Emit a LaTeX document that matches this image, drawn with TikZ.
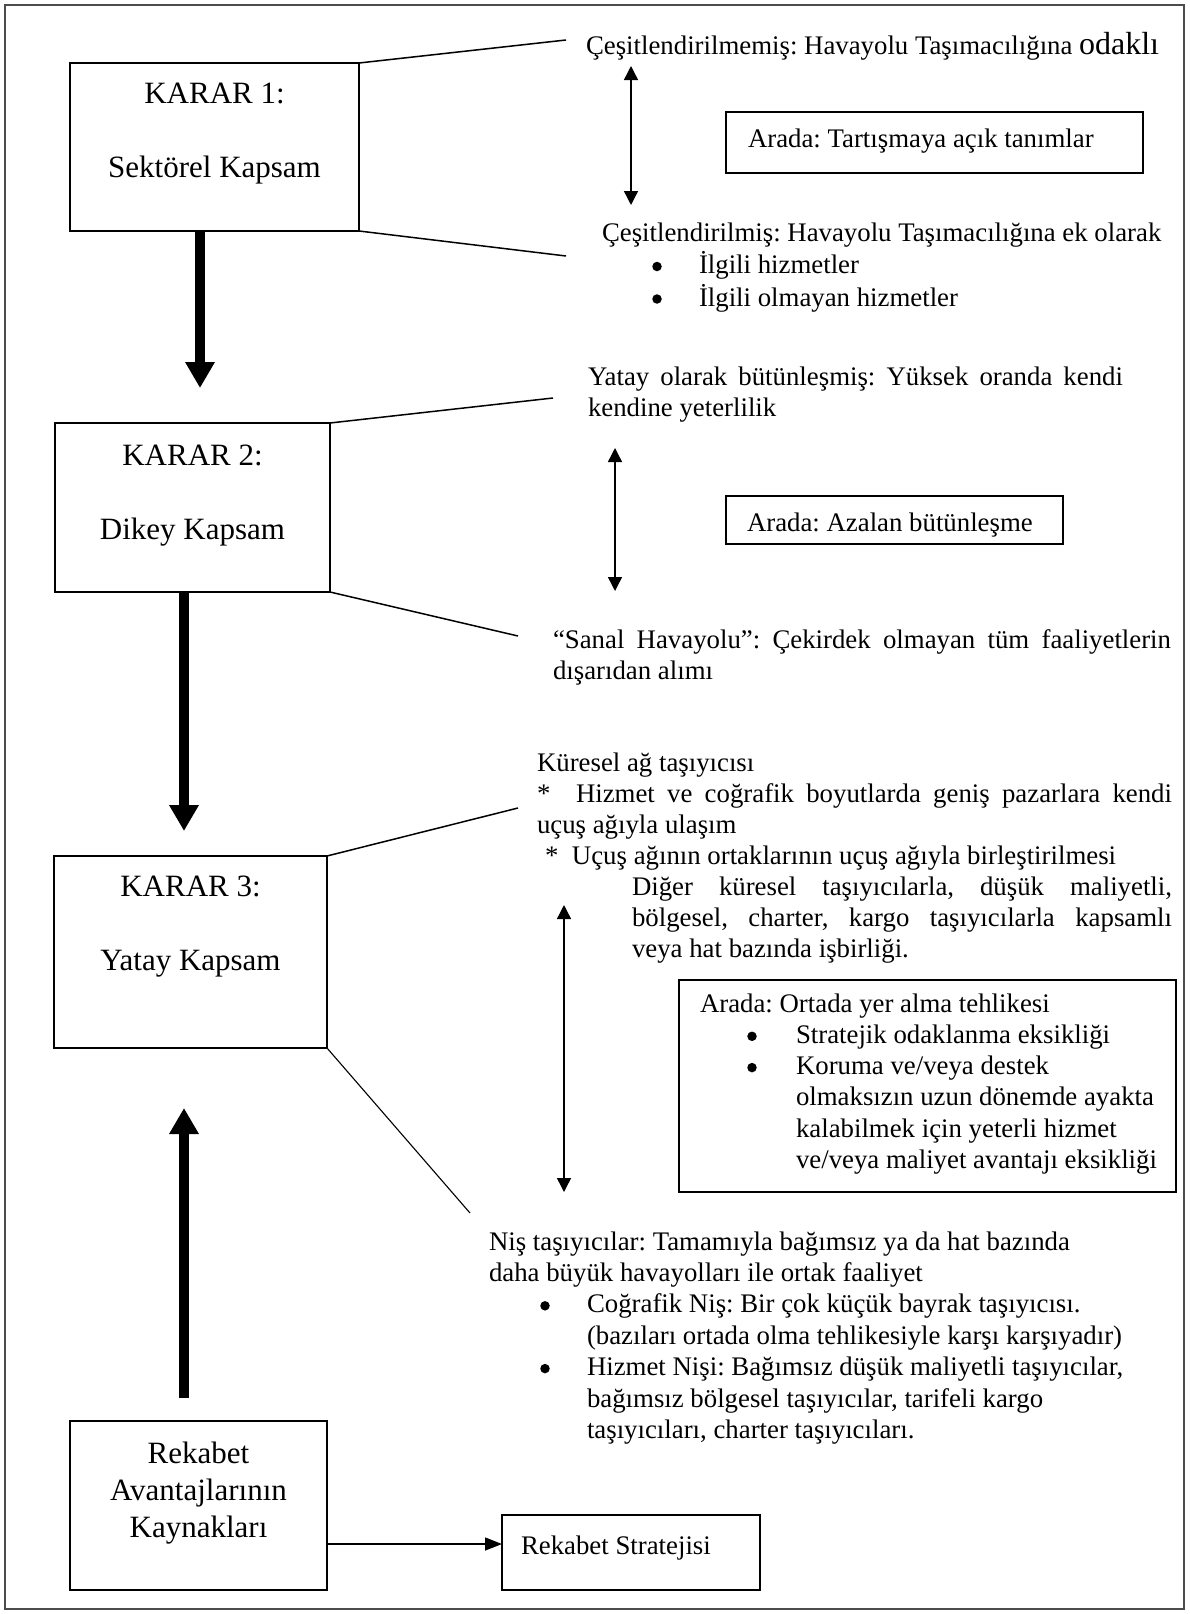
\documentclass[tikz,border=0pt]{standalone}
\usepackage{fontspec}
\usepackage{pict2e}
\setmainfont{Liberation Serif}
\usetikzlibrary{arrows.meta}
\frenchspacing

% text sizes: side notes and decision boxes
\newcommand\notefont{\fontsize{26.8}{31.1}\selectfont}
\newcommand\boxfont{\fontsize{31}{37}\selectfont}
% lines of a text block, first baseline = node base
\newcommand\txtrows[2][l]{\begin{tabular}[t]{@{}#1@{}}#2\end{tabular}}
% a justified line of given width
\newcommand\just[2]{\makebox[#1][s]{#2}}
% round list bullet, centred on the current point
\newcommand\bdot{{\setlength{\unitlength}{1pt}\begin{picture}(0,0)\put(0,7){\circle*{9.5}}\end{picture}}}
% bullet: indent to bullet centre, distance to the item text
\newcommand\bulrow[2]{\hspace*{#1}\makebox[#2][l]{\bdot}}

\begin{document}
\begin{tikzpicture}[x=1pt,y=-1pt,
  frame/.style={draw=black!70,line width=2pt},
  box/.style={draw,line width=1.6pt,inner sep=0pt,outer sep=0pt},
  boxtext/.style={inner sep=0pt,outer sep=0pt,anchor=base,font=\boxfont},
  note/.style={inner sep=0pt,outer sep=0pt,anchor=base west,font=\notefont},
  link/.style={line width=1.5pt},
  thinlink/.style={line width=1.1pt},
  dbl/.style={line width=1.4pt,{Triangle[length=14pt,width=14pt]}-{Triangle[length=14pt,width=14pt]}},
  bigarrow/.style={line width=10pt,-{Triangle[length=26pt,width=28pt]}},
  smallarrow/.style={line width=1.5pt,-{Triangle[length=17pt,width=13pt]}}]

\useasboundingbox (0,0) rectangle (1189,1614);
\fill[white] (0,0) rectangle (1189,1614);
\draw[frame] (5,5) rectangle (1184,1609);

% ---- decision boxes ----
\node[box,minimum width=289pt,minimum height=168pt] (b1) at (214.5,147) {};
\node[boxtext] (b1t) at (214.5,103) {\txtrows[c]{KARAR 1:\\ \\ Sektörel Kapsam}};

\node[box,minimum width=275pt,minimum height=169pt] (b2) at (192.5,507.5) {};
\node[boxtext] (b2t) at (192.5,465) {\txtrows[c]{KARAR 2:\\ \\ Dikey Kapsam}};

\node[box,minimum width=273pt,minimum height=192pt] (b3) at (190.5,952) {};
\node[boxtext] (b3t) at (190.5,896) {\txtrows[c]{KARAR 3:\\ \\ Yatay Kapsam}};

\node[box,minimum width=257pt,minimum height=169pt] (b4) at (198.5,1505.5) {};
\node[boxtext] (b4t) at (198.5,1463) {\txtrows[c]{Rekabet\\ Avantajlarının\\ Kaynakları}};

\node[box,minimum width=258pt,minimum height=75pt] (b5) at (631,1552.5) {};
\node[note] (b5t) at (521,1554) {Rekabet Stratejisi};

% ---- "in between" boxes ----
\node[box,minimum width=417pt,minimum height=61pt] (a1) at (934.5,142.5) {};
\node[note] (a1t) at (748,147) {Arada: Tartışmaya açık tanımlar};

\node[box,minimum width=337pt,minimum height=48pt] (a2) at (894.5,520) {};
\node[note] (a2t) at (747,531) {Arada: Azalan bütünleşme};

\node[box,minimum width=497pt,minimum height=212pt] (a3) at (927.5,1086) {};
\node[note] (a3t) at (700,1012) {\fontsize{26.8}{31.3}\selectfont\txtrows{Arada: Ortada yer alma tehlikesi\\
  \bulrow{52pt}{44pt}Stratejik odaklanma eksikliği\\
  \bulrow{52pt}{44pt}Koruma ve/veya destek\\
  \hspace*{96pt}olmaksızın uzun dönemde ayakta\\
  \hspace*{96pt}kalabilmek için yeterli hizmet\\
  \hspace*{96pt}ve/veya maliyet avantajı eksikliği}};

% ---- option texts ----
\node[note] (s1u) at (586,54) {Çeşitlendirilmemiş: Havayolu Taşımacılığına {\fontsize{32}{32}\selectfont odaklı}};
\node[note] (s1d) at (602,241) {\fontsize{26.8}{32.5}\selectfont\txtrows{Çeşitlendirilmiş: Havayolu Taşımacılığına ek olarak\\
  \bulrow{55pt}{42pt}İlgili hizmetler\\
  \bulrow{55pt}{42pt}İlgili olmayan hizmetler}};

\node[note] (s2u) at (588,385) {\txtrows{\just{535pt}{Yatay olarak bütünleşmiş: Yüksek oranda kendi}\\ kendine yeterlilik}};
\node[note] (s2d) at (553,648) {\txtrows{\just{618pt}{“Sanal Havayolu”: Çekirdek olmayan tüm faaliyetlerin}\\ dışarıdan alımı}};

\node[note] (s3u) at (537,771) {\txtrows{Küresel ağ taşıyıcısı\\
  \makebox[39pt][l]{*}\just{596pt}{Hizmet ve coğrafik boyutlarda geniş pazarlara kendi}\\
  uçuş ağıyla ulaşım\\
  \hspace*{8pt}\makebox[27pt][l]{*}Uçuş ağının ortaklarının uçuş ağıyla birleştirilmesi\\
  \hspace*{95pt}\just{540pt}{Diğer küresel taşıyıcılarla, düşük maliyetli,}\\
  \hspace*{95pt}\just{540pt}{bölgesel, charter, kargo taşıyıcılarla kapsamlı}\\
  \hspace*{95pt}veya hat bazında işbirliği.}};

\node[note] (s3d) at (489,1250) {\fontsize{26.8}{31.4}\selectfont\txtrows{Niş taşıyıcılar: Tamamıyla bağımsız ya da hat bazında\\
  daha büyük havayolları ile ortak faaliyet\\
  \bulrow{56pt}{42pt}Coğrafik Niş: Bir çok küçük bayrak taşıyıcısı.\\
  \hspace*{98pt}(bazıları ortada olma tehlikesiyle karşı karşıyadır)\\
  \bulrow{56pt}{42pt}Hizmet Nişi: Bağımsız düşük maliyetli taşıyıcılar,\\
  \hspace*{98pt}bağımsız bölgesel taşıyıcılar, tarifeli kargo\\
  \hspace*{98pt}taşıyıcıları, charter taşıyıcıları.}};

% ---- fan lines from the boxes ----
\coordinate (e1u) at (566,40);
\coordinate (e1d) at (566,256);
\coordinate (e2u) at (553,398);
\coordinate (e2d) at (518,636);
\coordinate (e3u) at (518,808);
\coordinate (e3d) at (470,1213);
\draw[link] (b1.north east) -- (e1u);
\draw[link] (b1.south east) -- (e1d);
\draw[link] (b2.north east) -- (e2u);
\draw[link] (b2.south east) -- (e2d);
\draw[link] (b3.north east) -- (e3u);
\draw[thinlink] (b3.south east) -- (e3d);

% ---- range arrows ----
\coordinate (d1a) at (631,66);
\coordinate (d1b) at (631,205);
\coordinate (d2a) at (615,448);
\coordinate (d2b) at (615,591);
\coordinate (d3a) at (564,905);
\coordinate (d3b) at (564,1192);
\draw[dbl] (d1a) -- (d1b);
\draw[dbl] (d2a) -- (d2b);
\draw[dbl] (d3a) -- (d3b);

% ---- main flow arrows ----
\coordinate (t1) at (200,388);
\coordinate (t2) at (184,831);
\coordinate (t3) at (184,1108);
\coordinate (s3) at (184,1398);
\draw[bigarrow] (b1.south -| t1) -- (t1);
\draw[bigarrow] (b2.south -| t2) -- (t2);
\draw[bigarrow] (s3) -- (t3);

\coordinate (r4) at (0,1544);
\draw[smallarrow] (b4.east |- r4) -- (b5.west |- r4);

\end{tikzpicture}
\end{document}
